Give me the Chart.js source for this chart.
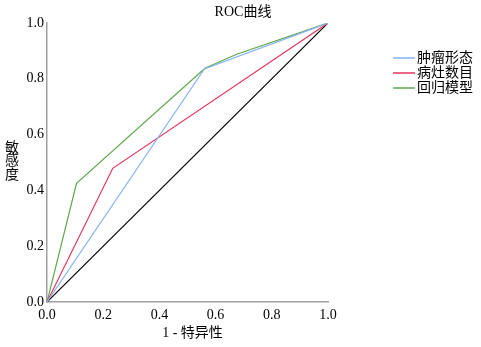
<!DOCTYPE html>
<html><head><meta charset="utf-8">
<script src="https://cdn.jsdelivr.net/npm/chart.js@4"></script>
<style>html,body{margin:0;padding:0;background:#fff}#wrap{width:481px;height:347px;position:relative}</style>
</head><body><div id="wrap"><canvas id="c" width="481" height="347"></canvas></div>
<script>
const titleText = 'ROC曲线';
const xTitle = '1 - 特异性';
const yTitle = '敏感度';
const seriesNames = ['肿瘤形态', '病灶数目', '回归模型'];
const seriesColors = ['#86b3f0', '#e4345c', '#5da84d'];
const tumorX = [0, 0.56, 1];
const tumorY = [0, 0.835, 1];
const lesionX = [0, 0.234, 1];
const lesionY = [0, 0.479, 1];
const modelX = [0, 0.105, 0.562, 0.675, 1];
const modelY = [0, 0.425, 0.838, 0.888, 1];
const refX = [0, 1];
const refY = [0, 1];
const tickValues = [0, 0.2, 0.4, 0.6, 0.8, 1.0];

const FONT = "'Liberation Serif', 'Noto Sans CJK SC', serif";
const pts = (xs, ys) => xs.map((x, i) => ({x, y: ys[i]}));
const xsAll = [tumorX, lesionX, modelX];
const ysAll = [tumorY, lesionY, modelY];

const datasets = seriesNames.map((n, i) => ({
  label: n, data: pts(xsAll[i], ysAll[i]), borderColor: seriesColors[i],
  borderWidth: 1.2, showLine: true, pointRadius: 0, fill: false, tension: 0
}));
datasets.push({label: 'ref', data: pts(refX, refY), borderColor: '#000', borderWidth: 1.2, showLine: true, pointRadius: 0, fill: false});

const textPlugin = {
  id: 'texts',
  afterDraw(chart) {
    const ctx = chart.ctx; const a = chart.chartArea;
    ctx.save();
    ctx.fillStyle = '#000';
    ctx.textBaseline = 'middle';
    ctx.textAlign = 'center';
    ctx.font = '14px ' + FONT;
    ctx.fillText(titleText, 243, 12);
    ctx.fillText(xTitle, (a.left + a.right) / 2 + 5, 333);
    ctx.font = '14px ' + FONT;
    [...yTitle].forEach((ch, i) => ctx.fillText(ch, 12, 148 + i * 13.5));
    // legend
    ctx.textAlign = 'left';
    seriesNames.forEach((n, i) => {
      const y = 58 + i * 15;
      ctx.strokeStyle = seriesColors[i]; ctx.lineWidth = 1.5;
      ctx.beginPath(); ctx.moveTo(393, y); ctx.lineTo(415, y); ctx.stroke();
      ctx.fillText(n, 417, y);
    });
    ctx.restore();
  }
};

new Chart(document.getElementById('c'), {
  type: 'scatter',
  data: {datasets},
  options: {
    responsive: false, animation: false, devicePixelRatio: 1,
    layout: {padding: {top: 23, right: 153, left: 0, bottom: 0}},
    plugins: {legend: {display: false}, tooltip: {enabled: false}, title: {display: false}},
    scales: {
      x: {
        type: 'linear', min: 0, max: 1,
        afterBuildTicks: s => { s.ticks = tickValues.map(v => ({value: v})); },
        afterFit: s => { s.height = 45; },
        grid: {display: false, drawTicks: false},
        border: {display: true, color: '#a0a0a0', width: 1.5},
        ticks: {padding: 5, color: '#000', font: {family: FONT, size: 14}, callback: v => v.toFixed(1), maxRotation: 0, autoSkip: false}
      },
      y: {
        type: 'linear', min: 0, max: 1,
        afterBuildTicks: s => { s.ticks = tickValues.map(v => ({value: v})); },
        afterFit: s => { s.width = 47; },
        grid: {display: false, drawTicks: false},
        border: {display: true, color: '#a0a0a0', width: 1.5},
        ticks: {padding: 3, color: '#000', font: {family: FONT, size: 14}, callback: v => v.toFixed(1), autoSkip: false}
      }
    }
  },
  plugins: [textPlugin]
});
</script></body></html>
